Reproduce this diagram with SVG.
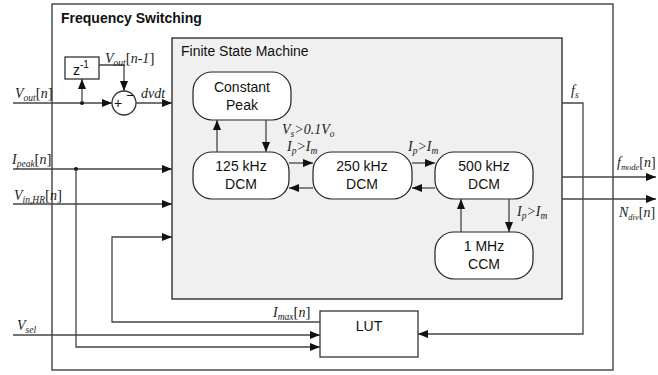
<svg xmlns="http://www.w3.org/2000/svg" width="658" height="375" viewBox="0 0 658 375">
<defs>
<marker id="ah" markerUnits="userSpaceOnUse" markerWidth="10" markerHeight="8" refX="10" refY="4" orient="auto">
<path d="M0,0 L10,4 L0,8 Z" fill="#111"/>
</marker>
</defs>
<style>
.box{fill:#fff;stroke:#333;stroke-width:1.3}
.fsm{fill:#f0f0f0;stroke:#222;stroke-width:1.3}
.node{fill:#fff;stroke:#222;stroke-width:1.2}
.ln{fill:none;stroke:#333;stroke-width:1.3}
.ar{fill:none;stroke:#444;stroke-width:1.3;marker-end:url(#ah)}
.t{font-family:"Liberation Sans",Arial,sans-serif;font-size:14px;fill:#111}
.tc{font-family:"Liberation Sans",Arial,sans-serif;font-size:14px;fill:#111;text-anchor:middle}
.m{font-family:"Liberation Serif","Times New Roman",serif;font-style:italic;font-size:14px;fill:#222}
.s{font-size:9.5px}
.s2{font-size:8.5px}
.b{font-style:normal;font-size:15px}
.b2{font-style:normal;font-size:14px}
</style>
<g id="frequency-switching">
<rect class="box" x="52" y="4" width="561" height="366"/>
<text class="t" x="61" y="23" font-weight="bold">Frequency Switching</text>
</g>
<g id="fsm">
<rect class="fsm" x="172" y="38" width="390" height="261"/>
<text class="t" x="181" y="56">Finite State Machine</text>
</g>
<g id="z-delay">
<rect class="box" x="65" y="57" width="34" height="22"/>
<text class="t" x="73" y="75" font-size="15">z<tspan font-size="10" dy="-7">-1</tspan></text>
</g>
<g id="sum">
<circle cx="124" cy="103" r="12" fill="#fff" stroke="#333" stroke-width="1.3"/>
<text class="t" x="114" y="108" font-size="12">+</text>
<text class="t" x="126" y="100" font-size="12">−</text>
</g>
<g id="constant-peak">
<rect class="node" x="193" y="72" width="98" height="48" rx="19"/>
<text class="tc" x="242" y="92">Constant</text>
<text class="tc" x="242" y="110">Peak</text>
</g>
<g id="dcm-125">
<rect class="node" x="193" y="152" width="96" height="47" rx="19"/>
<text class="tc" x="241" y="171">125 kHz</text>
<text class="tc" x="241" y="189">DCM</text>
</g>
<g id="dcm-250">
<rect class="node" x="313" y="152" width="99" height="47" rx="19"/>
<text class="tc" x="362" y="171">250 kHz</text>
<text class="tc" x="362" y="189">DCM</text>
</g>
<g id="dcm-500">
<rect class="node" x="435" y="152" width="98" height="47" rx="19"/>
<text class="tc" x="484" y="171">500 kHz</text>
<text class="tc" x="484" y="189">DCM</text>
</g>
<g id="ccm-1m">
<rect class="node" x="435" y="232" width="98" height="47" rx="19"/>
<text class="tc" x="484" y="251">1 MHz</text>
<text class="tc" x="484" y="269">CCM</text>
</g>
<g id="lut">
<rect class="box" x="320" y="311" width="98" height="46"/>
<text class="tc" x="369" y="331">LUT</text>
</g>
<g id="connectors">
<path class="ar" d="M13,103 H112"/>
<circle cx="82" cy="103" r="2" fill="#111"/>
<path class="ar" d="M82,103 V79"/>
<path class="ar" d="M99,65 H124 V91"/>
<path class="ar" d="M136,103 H172"/>
<path class="ar" d="M217,152 V120"/>
<path class="ar" d="M266,120 V152"/>
<path class="ar" d="M289,163 H313"/>
<path class="ar" d="M313,188 H289"/>
<path class="ar" d="M412,163 H435"/>
<path class="ar" d="M435,188 H412"/>
<path class="ar" d="M461,232 V199"/>
<path class="ar" d="M509,199 V232"/>
<path class="ar" d="M562,103 H583 V334 H418"/>
<path class="ar" d="M562,177 H656"/>
<path class="ar" d="M562,199 H656"/>
<path class="ar" d="M13,169 H172"/>
<circle cx="76" cy="169" r="2" fill="#111"/>
<path class="ar" d="M76,169 V347 H320"/>
<path class="ar" d="M13,204 H172"/>
<path class="ar" d="M320,322 H112 V237 H172"/>
<path class="ar" d="M13,335 H320"/>
</g>
<g id="labels">
<text class="m" x="15" y="98">V<tspan class="s" dy="3">out</tspan><tspan class="b" dy="-3">[</tspan>n<tspan class="b">]</tspan></text>
<text class="m" x="105" y="63">V<tspan class="s" dy="3">out</tspan><tspan class="b" dy="-3">[</tspan>n-1<tspan class="b">]</tspan></text>
<text class="m" x="141" y="98">dvdt</text>
<text class="m" x="282" y="134">V<tspan class="s" dy="3">s</tspan><tspan dy="-3">&gt;0.1V</tspan><tspan class="s" dy="3">o</tspan></text>
<text class="m" x="287" y="151">I<tspan class="s" dy="3">p</tspan><tspan dy="-3">&gt;I</tspan><tspan class="s" dy="3">m</tspan></text>
<text class="m" x="408" y="151">I<tspan class="s" dy="3">p</tspan><tspan dy="-3">&gt;I</tspan><tspan class="s" dy="3">m</tspan></text>
<text class="m" x="517" y="216">I<tspan class="s" dy="3">p</tspan><tspan dy="-3">&gt;I</tspan><tspan class="s" dy="3">m</tspan></text>
<text class="m" x="571" y="95">f<tspan class="s" dy="3">s</tspan></text>
<text class="m" x="617" y="167">f<tspan class="s2" dy="3">mode</tspan><tspan class="b2" dy="-3">[</tspan>n<tspan class="b2">]</tspan></text>
<text class="m" x="619" y="217">N<tspan class="s2" dy="3">div</tspan><tspan class="b2" dy="-3">[</tspan>n<tspan class="b2">]</tspan></text>
<text class="m" x="12" y="164">I<tspan class="s" dy="3">peak</tspan><tspan class="b" dy="-3">[</tspan>n<tspan class="b">]</tspan></text>
<text class="m" x="14" y="200">V<tspan class="s" dy="3">in,HR</tspan><tspan class="b" dy="-3">[</tspan>n<tspan class="b">]</tspan></text>
<text class="m" x="273" y="317">I<tspan class="s" dy="3">max</tspan><tspan class="b" dy="-3">[</tspan>n<tspan class="b">]</tspan></text>
<text class="m" x="17" y="330">V<tspan class="s" dy="3">sel</tspan></text>
</g>
</svg>
